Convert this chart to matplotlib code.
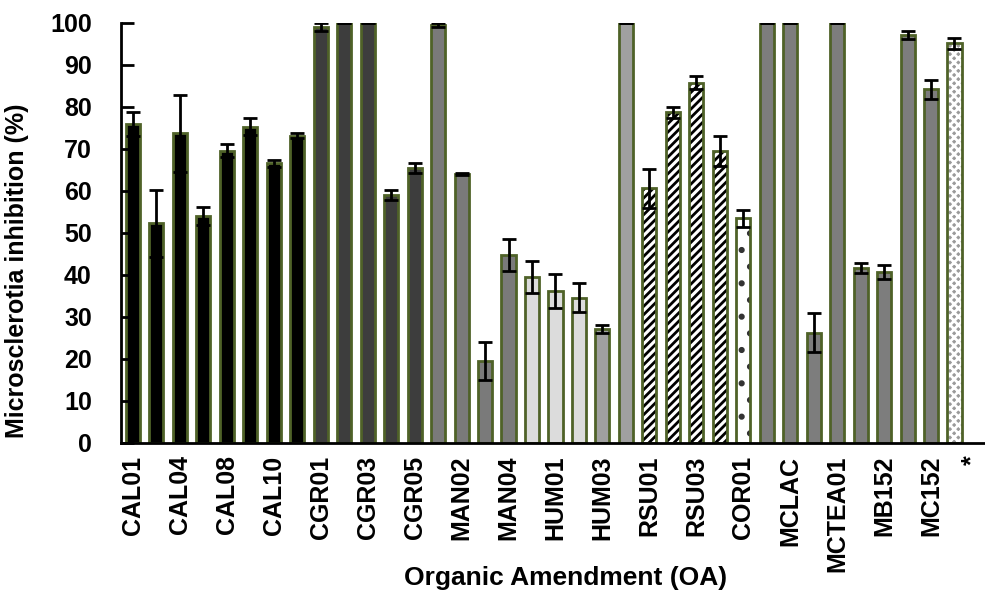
import numpy as np
import matplotlib
matplotlib.use("Agg")
import matplotlib.pyplot as plt

plt.rcParams['font.family'] = ['Liberation Sans', 'DejaVu Sans']
plt.rcParams['font.weight'] = 'bold'
plt.rcParams['hatch.linewidth'] = 2.0

# inhibition (%) and error per organic amendment, in plotting order
values = [76.0, 52.3, 73.7, 54.1, 69.6, 75.3, 66.6, 73.2,
          99.1, 100, 100, 59.0, 65.5,
          99.5, 64.0, 19.5, 44.7,
          39.6, 36.2, 34.6, 27.1, 100,
          60.6, 78.8, 85.8, 69.6,
          53.5,
          100, 100, 26.3, 100, 41.6, 40.8, 97.1, 84.2,
          95.2]
errors = [2.8, 8.0, 9.1, 2.2, 1.6, 2.0, 0.9, 0.6,
          0.9, 0.0, 0.0, 1.2, 1.1,
          0.4, 0.3, 4.6, 3.8,
          3.8, 4.0, 3.4, 1.0, 0.0,
          4.6, 1.3, 1.6, 3.6,
          2.0,
          0.0, 0.0, 4.6, 0.0, 1.2, 1.7, 1.0, 2.2,
          1.3]
fills = (['#000000'] * 8 + ['#3d3d3d'] * 5 + ['#7a7a7a'] * 4 +
         ['#dcdcdc'] * 3 + ['#a0a0a0'] * 2 + ['hatch'] * 4 + ['dots'] +
         ['#7d7d7d'] * 8 + ['check'])
tick_labels = ['CAL01', 'CAL04', 'CAL08', 'CAL10', 'CGR01', 'CGR03', 'CGR05',
               'MAN02', 'MAN04', 'HUM01', 'HUM03', 'RSU01', 'RSU03', 'COR01',
               'MCLAC', 'MCTEA01', 'MB152', 'MC152', '*']

edge = '#4f6228'
width = 0.6

fig = plt.figure(figsize=(9.85, 5.96), dpi=100)
ax = fig.add_axes([121 / 985, 153 / 596, 864 / 985, 420 / 596])

x = np.arange(len(values))
for i, (v, f) in enumerate(zip(values, fills)):
    if f == 'hatch':
        ax.bar(i, v, width, color='white', edgecolor='black', hatch='////', linewidth=0)
        ax.bar(i, v, width, color='none', edgecolor=edge, linewidth=2)
    elif f == 'dots':
        ax.bar(i, v, width, color='white', edgecolor='#333333', hatch='.', linewidth=0)
        ax.bar(i, v, width, color='none', edgecolor=edge, linewidth=2)
    elif f == 'check':
        ax.bar(i, v, width, color='#9a9a9a', edgecolor='white', hatch='xxxx', linewidth=0)
        ax.bar(i, v, width, color='none', edgecolor=edge, linewidth=2)
    else:
        ax.bar(i, v, width, color=f, edgecolor=edge, linewidth=2)

ax.errorbar(x, values, yerr=errors, fmt='none', ecolor='black', elinewidth=2,
            capsize=5, capthick=2, zorder=5)

ax.set_ylim(0, 100)
ax.set_xlim(-0.51, 36.3)
ax.set_yticks(np.arange(0, 101, 10))
tick_pos = list(np.arange(0, 2 * (len(tick_labels) - 1), 2)) + [35.75]
ax.set_xticks(tick_pos)
ax.set_xticklabels(tick_labels, rotation=90, fontsize=18, fontweight='bold')
ax.tick_params(axis='y', direction='in', length=9, width=2, pad=21, labelsize=18)
ax.tick_params(axis='x', length=0, pad=9)

for s in ['top', 'right']:
    ax.spines[s].set_visible(False)
for s in ['left', 'bottom']:
    ax.spines[s].set_linewidth(2)

ax.set_ylabel('Microsclerotia inhibition (%)', fontsize=18, fontweight='bold')
ax.yaxis.set_label_coords(-0.107, 0.41)
ax.set_xlabel('Organic Amendment (OA)', fontsize=19, fontweight='bold')
ax.xaxis.set_label_coords(0.514, -0.294)

fig.savefig('out.png', dpi=100)
